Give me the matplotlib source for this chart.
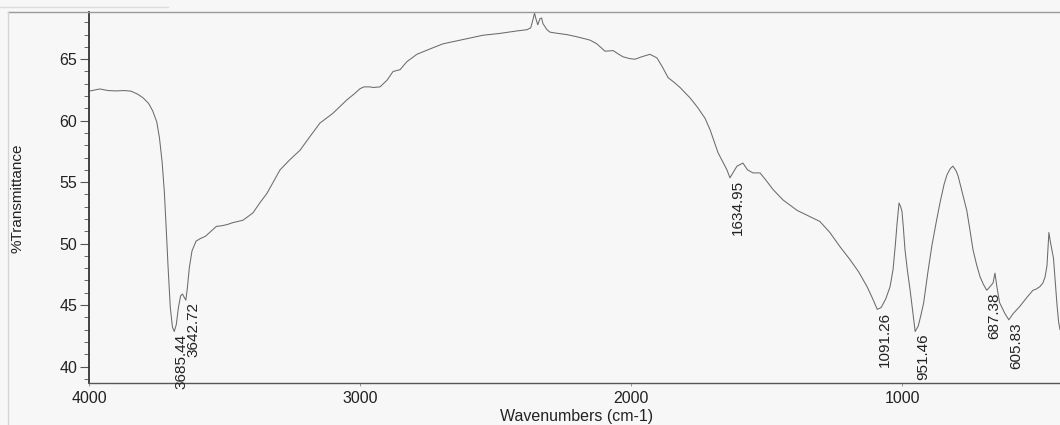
import matplotlib
matplotlib.use("Agg")
import matplotlib.pyplot as plt
from matplotlib.lines import Line2D
from matplotlib.ticker import MultipleLocator

plt.rcParams['font.family'] = ['Liberation Sans', 'DejaVu Sans']

# FTIR spectrum
wavenumber = [4000, 3960, 3930, 3900, 3870, 3845, 3820, 3800, 3780, 3765,
              3750, 3740, 3730, 3722, 3715, 3708, 3700, 3692, 3685.44, 3678,
              3670, 3662, 3655, 3648, 3642.72, 3637, 3630, 3620, 3605, 3590,
              3570, 3550, 3530, 3510, 3490, 3470, 3432, 3395, 3370, 3343,
              3295, 3260, 3221, 3185, 3148, 3100, 3048, 3020, 3000, 2985,
              2965, 2950, 2926, 2900, 2878, 2852, 2827, 2790, 2740, 2694,
              2620, 2546, 2483, 2421, 2384, 2370, 2362, 2356, 2351, 2344,
              2336, 2330, 2325, 2310, 2299, 2270, 2236, 2205, 2177, 2151,
              2126, 2096, 2066, 2045, 2030, 2005, 1985, 1960, 1930, 1904,
              1885, 1863, 1840, 1819, 1782, 1755, 1727, 1708, 1679, 1646,
              1634.95, 1620, 1609, 1587, 1570, 1550, 1524, 1500, 1476, 1439,
              1387, 1340, 1303, 1266, 1229, 1192, 1160, 1129, 1110, 1091.26,
              1077, 1060, 1044, 1033, 1025, 1018, 1011, 1005, 1000, 995,
              989, 980, 970, 960, 951.46, 940, 930, 920, 905, 890,
              875, 860, 845, 834, 822, 812, 800, 793, 778, 761,
              750, 738, 725, 712, 700, 687.38, 675, 664, 657, 650,
              640, 620, 605.83, 590, 565, 540, 517, 505, 491, 480,
              472, 465, 458, 453, 447, 441, 436, 428, 422, 417]
transmittance = [62.40, 62.58, 62.45, 62.42, 62.45, 62.40, 62.15, 61.85, 61.40, 60.80,
                 59.90, 58.60, 56.60, 54.20, 51.20, 48.00, 44.80, 43.20, 42.85, 43.40,
                 44.80, 45.75, 45.90, 45.60, 45.40, 46.40, 48.00, 49.40, 50.20, 50.40,
                 50.60, 51.00, 51.40, 51.45, 51.55, 51.70, 51.90, 52.50, 53.30, 54.10,
                 56.00, 56.80, 57.60, 58.70, 59.80, 60.60, 61.70, 62.20, 62.60, 62.75,
                 62.75, 62.70, 62.75, 63.30, 64.00, 64.15, 64.80, 65.40, 65.85, 66.25,
                 66.60, 66.95, 67.10, 67.30, 67.40, 67.55, 68.20, 68.75, 68.30, 67.80,
                 68.30, 68.35, 67.90, 67.40, 67.20, 67.10, 67.00, 66.85, 66.70, 66.55,
                 66.25, 65.65, 65.70, 65.40, 65.20, 65.05, 65.00, 65.20, 65.40, 65.10,
                 64.40, 63.50, 63.10, 62.70, 61.85, 61.10, 60.20, 59.25, 57.40, 56.00,
                 55.35, 55.90, 56.30, 56.55, 56.00, 55.75, 55.75, 55.10, 54.40, 53.55,
                 52.70, 52.20, 51.80, 50.90, 49.75, 48.70, 47.70, 46.50, 45.60, 44.65,
                 44.80, 45.50, 46.50, 47.90, 49.80, 51.70, 53.30, 53.00, 52.60, 51.30,
                 49.50, 47.80, 46.20, 44.40, 42.85, 43.30, 44.20, 45.20, 47.60, 49.80,
                 51.60, 53.30, 54.80, 55.60, 56.10, 56.30, 55.90, 55.50, 54.20, 52.70,
                 51.20, 49.50, 48.30, 47.30, 46.70, 46.20, 46.50, 46.80, 47.60, 46.50,
                 45.20, 44.30, 43.80, 44.30, 44.90, 45.60, 46.20, 46.30, 46.50, 46.80,
                 47.30, 48.20, 50.90, 50.20, 49.50, 48.80, 47.30, 45.00, 43.60, 43.00]

peak_labels = ['3685.44', '3642.72', '1634.95', '1091.26', '951.46', '687.38', '605.83']
peak_pos = [3685.44, 3642.72, 1634.95, 1091.26, 951.46, 687.38, 605.83]
peak_val = [42.85, 45.40, 55.35, 44.65, 42.85, 46.20, 43.80]

bg = '#f7f7f7'
ink = '#333333'

fig = plt.figure(figsize=(10.6, 4.25), dpi=100, facecolor=bg)
ax = fig.add_axes([89 / 1060, 1 - 383 / 425, 1 - 89 / 1060, (383 - 12) / 425])
ax.set_facecolor(bg)

ax.plot(wavenumber, transmittance, color='#6b6b6b', linewidth=0.75)

for lab, x, y in zip(peak_labels, peak_pos, peak_val):
    ax.annotate(lab, xy=(x, y), xytext=(0.5, -1.5), textcoords='offset points',
                rotation=90, ha='left', va='top', fontsize=11, color='#222222')

ax.set_xlim(4000, 417)
ax.set_ylim(38.66, 68.84)
ax.xaxis.set_major_locator(MultipleLocator(1000))
ax.yaxis.set_major_locator(MultipleLocator(5))
ax.yaxis.set_minor_locator(MultipleLocator(1))

ax.spines['top'].set_visible(False)
ax.spines['right'].set_visible(False)
ax.spines['left'].set_color(ink)
ax.spines['left'].set_linewidth(1.3)
ax.spines['bottom'].set_color('#555555')
ax.spines['bottom'].set_linewidth(1.0)

ax.tick_params(axis='y', which='major', length=6.5, width=0.8, color='#555555',
               labelsize=11.5, labelcolor='#222222', pad=2)
ax.tick_params(axis='y', which='minor', length=3.6, width=0.7, color='#666666')
ax.tick_params(axis='x', which='major', length=2, width=0.6, color='#888888',
               labelsize=11.5, labelcolor='#222222', pad=4)

# page frame lines from the printout
fig.add_artist(Line2D([8 / 1060, 1], [1 - 12 / 425, 1 - 12 / 425],
                      transform=fig.transFigure, color='#9a9a9a', linewidth=1.0))
fig.add_artist(Line2D([8 / 1060, 8 / 1060], [0, 1 - 12 / 425],
                      transform=fig.transFigure, color='#d4d4d4', linewidth=1.0))
fig.add_artist(Line2D([0, 168 / 1060], [1 - 7 / 425, 1 - 7 / 425],
                      transform=fig.transFigure, color='#dcdcdc', linewidth=1.0))

fig.text(18 / 1060, 1 - 198 / 425, '%Transmittance', rotation=90,
         ha='center', va='center', fontsize=11, color='#222222')
fig.text(577 / 1060, 1 - 416 / 425, 'Wavenumbers (cm-1)',
         ha='center', va='center', fontsize=11.5, color='#222222')

fig.savefig('out.png', dpi=100, facecolor=bg)
